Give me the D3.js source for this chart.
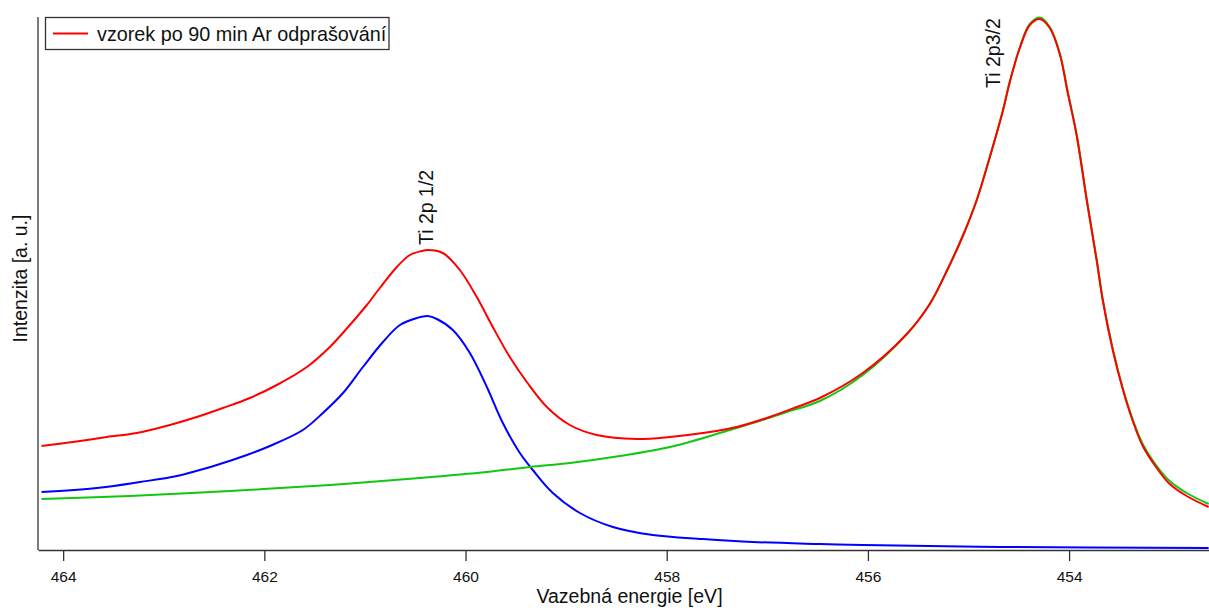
<!DOCTYPE html>
<html>
<head>
<meta charset="utf-8">
<script src="https://cdn.jsdelivr.net/npm/d3@7"></script>
<style>
  html, body { margin: 0; padding: 0; background: #fff; }
  svg { display: block; font-family: "Liberation Sans", Arial, sans-serif; }
</style>
</head>
<body>
<svg id="chart" width="1209" height="608"></svg>
<script>
// Ti 2p XPS spectrum after 90 min Ar sputtering: envelope, Ti 2p1/2 component, Ti 2p3/2 component + background
const sumEnergy = [464.215, 463.904, 463.566, 463.267, 462.939, 462.671, 462.412, 462.144, 461.876, 461.577,
  461.349, 461.150, 460.981, 460.852, 460.683, 460.553, 460.434, 460.375, 460.226, 460.057,
  459.888, 459.729, 459.560, 459.391, 459.192, 458.963, 458.695, 458.297, 457.969, 457.642,
  457.304, 456.976, 456.707, 456.478, 456.051, 455.613, 455.385, 455.216, 455.057, 454.918,
  454.788, 454.659, 454.590, 454.490, 454.391, 454.291, 454.192, 454.093, 454.013, 453.924,
  453.825, 453.725, 453.666, 453.566, 453.467, 453.367, 453.268, 453.129, 453.000, 452.831, 452.613];
const sumIntensity = [102, 106, 111, 115, 123, 131, 140, 150, 163, 181,
  201, 223, 243, 260, 281, 293, 297, 298, 295, 278,
  251, 221, 191, 166, 141, 123, 113, 109, 111, 115,
  121, 131, 141, 150, 175, 214, 244, 277, 312, 348,
  391, 437, 466, 500, 523, 529, 520, 494, 455, 412,
  348, 287, 248, 198, 159, 127, 102, 80, 64, 52, 41];

const p12Energy = [464.215, 463.665, 463.237, 462.869, 462.472, 462.174, 461.945, 461.617, 461.418, 461.218,
  461.020, 460.821, 460.652, 460.483, 460.375, 460.285, 460.126, 459.957, 459.788, 459.629,
  459.460, 459.331, 459.132, 458.863, 458.535, 458.138, 457.641, 457.144, 456.478, 456.051,
  454.689, 452.613];
const p12Intensity = [56, 60, 66, 72, 83, 93, 102, 118, 135, 155,
  181, 206, 223, 230, 232, 229, 218, 195, 161, 125,
  95, 78, 55, 35, 21, 13, 9, 6, 4, 3,
  1, 0];

const p32Energy = [464.215, 463.337, 462.343, 461.349, 460.454, 459.788, 459.361, 458.963, 458.466, 457.969,
  457.472, 457.144, 456.806, 456.478, 456.051, 455.613, 455.385, 455.216, 455.057, 454.918,
  454.788, 454.659, 454.590, 454.490, 454.391, 454.291, 454.192, 454.093, 454.013, 453.924,
  453.825, 453.725, 453.666, 453.566, 453.467, 453.367, 453.268, 453.129, 453.000, 452.831, 452.613];
const p32Intensity = [49, 52, 57, 63, 70, 76, 81, 85, 92, 101,
  115, 125, 136, 147, 173, 214, 244, 277, 312, 348,
  391, 437, 466, 500.5, 524, 530.5, 521, 495, 456, 413,
  349, 288, 249, 199, 160, 128.5, 104, 82, 67, 55, 44];

const xTicks = [464, 462, 460, 458, 456, 454];
const legendLabel = "vzorek po 90 min Ar odprašování";
const xTitle = "Vazebná energie [eV]";
const yTitle = "Intenzita [a. u.]";
const peakLabels = ["Ti 2p 1/2", "Ti 2p3/2"];
const peakLabelEnergy = [460.325, 454.689];
const peakLabelIntensity = [303, 460];

const svg = d3.select("#chart");
const plotLeft = 38, plotRight = 1221, plotTop = 17, plotBottom = 550;

const x = d3.scaleLinear().domain([464.25, 452.49]).range([plotLeft, plotRight]);
const y = d3.scaleLinear().domain([-2, 531]).range([plotBottom, plotTop]);

const line = d3.line()
  .x(d => x(d[0]))
  .y(d => y(d[1]))
  .curve(d3.curveCatmullRom.alpha(0.5));

const zipSeries = (e, v) => e.map((en, i) => [en, v[i]]).sort((a, b) => b[0] - a[0]);

const plot = svg.append("g");
plot.append("path").datum(zipSeries(p12Energy, p12Intensity))
  .attr("d", line).attr("fill", "none").attr("stroke", "#0000ff").attr("stroke-width", 2);
plot.append("path").datum(zipSeries(p32Energy, p32Intensity))
  .attr("d", line).attr("fill", "none").attr("stroke", "#10c810").attr("stroke-width", 2);
plot.append("path").datum(zipSeries(sumEnergy, sumIntensity))
  .attr("d", line).attr("fill", "none").attr("stroke", "#ff0000").attr("stroke-width", 2);

// Bottom axis
const xAxis = d3.axisBottom(x).tickValues(xTicks).tickFormat(d3.format("d")).tickSize(11).tickSizeOuter(0);
const gx = svg.append("g").attr("transform", `translate(0,${plotBottom})`).call(xAxis);
gx.select(".domain").attr("stroke", "#333").attr("stroke-width", 1.3);
gx.selectAll(".tick line").attr("stroke", "#333").attr("stroke-width", 1.3);
gx.selectAll(".tick text").attr("font-size", 15.5).attr("fill", "#111").attr("dy", 0).attr("y", 32)
  .attr("font-family", "Liberation Sans, Arial, sans-serif");

// Left axis line (no ticks)
svg.append("line").attr("x1", plotLeft).attr("x2", plotLeft).attr("y1", plotTop).attr("y2", plotBottom)
  .attr("stroke", "#333").attr("stroke-width", 1.3);

// Axis titles
svg.append("text").attr("x", (plotLeft + plotRight) / 2).attr("y", 603)
  .attr("text-anchor", "middle").attr("font-size", 19.5).attr("fill", "#111").text(xTitle);
svg.append("text").attr("transform", `translate(27,${(plotTop + plotBottom) / 2 - 5}) rotate(-90)`)
  .attr("text-anchor", "middle").attr("font-size", 19.5).attr("fill", "#111").text(yTitle);

// Peak labels
peakLabels.forEach((t, i) => {
  svg.append("text")
    .attr("transform", `translate(${x(peakLabelEnergy[i])},${y(peakLabelIntensity[i])}) rotate(-90)`)
    .attr("font-size", 19.5).attr("fill", "#111").text(t);
});

// Legend
const lg = svg.append("g");
lg.append("rect").attr("x", 45.5).attr("y", 17.5).attr("width", 343.5).attr("height", 32)
  .attr("fill", "#fff").attr("stroke", "#333").attr("stroke-width", 1.3);
lg.append("line").attr("x1", 53).attr("x2", 88).attr("y1", 33.5).attr("y2", 33.5)
  .attr("stroke", "#ff0000").attr("stroke-width", 2);
lg.append("text").attr("x", 97).attr("y", 40.5).attr("font-size", 19.8).attr("fill", "#111").text(legendLabel);
</script>
</body>
</html>
